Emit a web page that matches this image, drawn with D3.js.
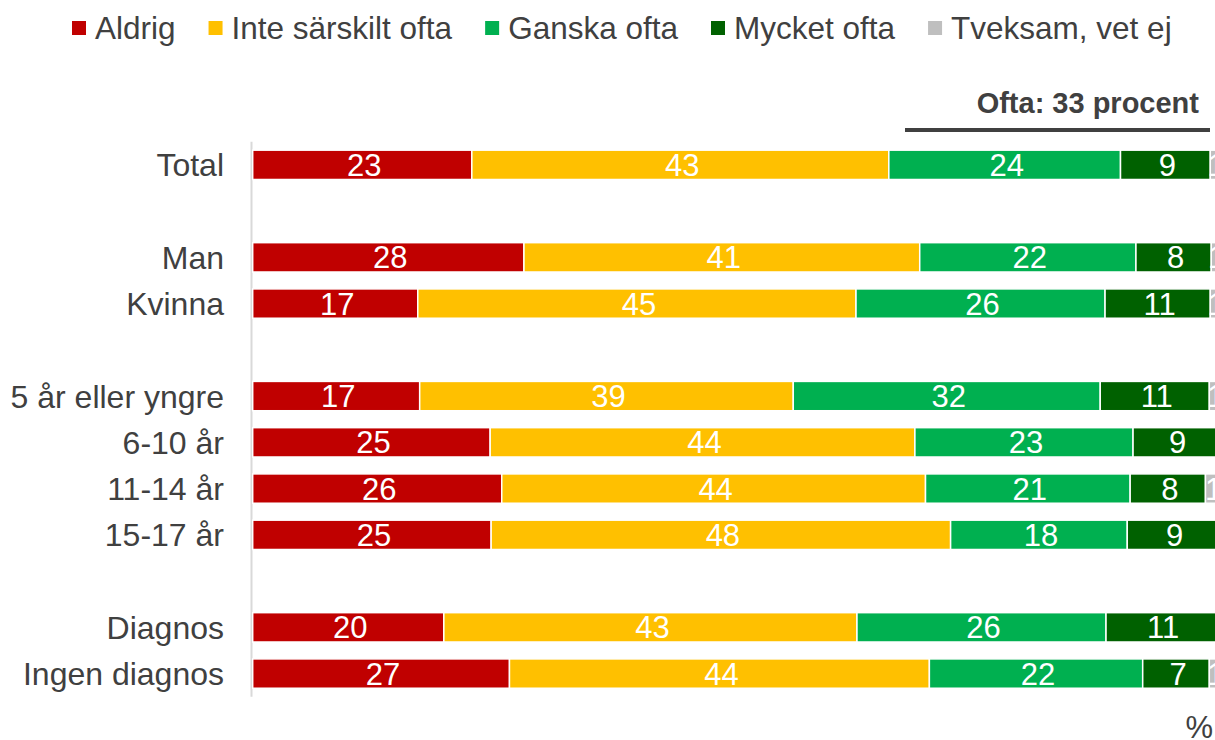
<!DOCTYPE html>
<html>
<head>
<meta charset="utf-8">
<script src="https://cdn.jsdelivr.net/npm/d3@7"></script>
<style>
  body { margin: 0; background: #fff; }
  svg { display: block; font-family: "Liberation Sans", Arial, sans-serif; }
</style>
</head>
<body>
<svg id="chart" width="1215" height="740"></svg>
<script>
// categories, blank strings are spacer rows
var rows = ['Total', '', 'Man', 'Kvinna', ' ', '5 år eller yngre', '6-10 år', '11-14 år', '15-17 år', '  ', 'Diagnos', 'Ingen diagnos'];
var groups = ['Total', 'Man', 'Kvinna', '5 år eller yngre', '6-10 år', '11-14 år', '15-17 år', 'Diagnos', 'Ingen diagnos'];

var seriesNames = ['Aldrig', 'Inte särskilt ofta', 'Ganska ofta', 'Mycket ofta', 'Tveksam, vet ej'];
var seriesColors = ['#C00000', '#FFC000', '#00B050', '#006100', '#BFBFBF'];

var aldrig    = [22.7, 28.1, 17.1, 17.3, 24.6, 25.8, 24.7, 19.8, 26.6];
var inteOfta  = [43.2, 41.0, 45.4, 38.7, 44.0, 43.9, 47.6, 42.8, 43.5];
var ganska    = [24.0, 22.4, 25.8, 31.8, 22.6, 21.2, 18.3, 25.8, 22.1];
var mycket    = [9.3, 7.8, 10.9, 11.3, 8.8, 7.8, 9.4, 11.4, 6.9];
var tveksam   = [0.8, 0.7, 0.8, 0.9, 0, 1.3, 0, 0, 0.9];

var oftaLabel = 'Ofta: 33 procent';

var svg = d3.select('#chart');
var textColor = '#404040';

var data = groups.map(function (g, i) {
  return { group: g, v: [aldrig[i], inteOfta[i], ganska[i], mycket[i], tveksam[i]] };
});

var x = d3.scaleLinear().domain([0, 100]).range([252.7, 1218]);
var y = d3.scaleBand().domain(rows).range([141.7, 696.7])
  .paddingInner(0.366).paddingOuter(0.183);

// vertical axis line
svg.append('line')
  .attr('x1', 251.5).attr('x2', 251.5)
  .attr('y1', y.range()[0]).attr('y2', y.range()[1])
  .attr('stroke', '#D9D9D9').attr('stroke-width', 2);

// category labels
svg.append('g').selectAll('text')
  .data(groups)
  .enter().append('text')
  .attr('x', 224)
  .attr('y', function (d) { return y(d) + y.bandwidth() / 2; })
  .attr('dy', '0.36em')
  .attr('text-anchor', 'end')
  .attr('fill', textColor)
  .style('font-size', '32px')
  .text(function (d) { return d; });

// stacked bars
var rowG = svg.append('g').selectAll('g')
  .data(data)
  .enter().append('g')
  .attr('transform', function (d) { return 'translate(0,' + y(d.group) + ')'; });

rowG.each(function (d) {
  var g = d3.select(this);
  var acc = 0;
  d.v.forEach(function (val, k) {
    if (val <= 0) return;
    var x0 = x(acc), x1 = x(acc + val);
    acc += val;
    g.append('rect')
      .attr('x', x0).attr('width', x1 - x0)
      .attr('y', 0).attr('height', y.bandwidth())
      .attr('fill', seriesColors[k])
      .attr('stroke', '#fff').attr('stroke-width', 1.5);
    g.append('text')
      .attr('x', (x0 + x1) / 2 + 2)
      .attr('y', y.bandwidth() / 2)
      .attr('dy', '0.36em')
      .attr('text-anchor', 'middle')
      .attr('fill', '#fff')
      .style('font-size', '31px')
      .text(Math.max(1, Math.round(val)));
  });
});

// "Ofta" bracket
svg.append('line')
  .attr('x1', 905).attr('x2', 1210)
  .attr('y1', 130).attr('y2', 130)
  .attr('stroke', textColor).attr('stroke-width', 4);
svg.append('text')
  .attr('x', 1199).attr('y', 113)
  .attr('text-anchor', 'end')
  .attr('fill', textColor)
  .style('font-size', '29px').style('font-weight', 'bold')
  .text(oftaLabel);

// percent sign
svg.append('text')
  .attr('x', 1213).attr('y', 738)
  .attr('text-anchor', 'end')
  .attr('fill', textColor)
  .style('font-size', '31px')
  .text('%');

// legend
var legend = svg.append('g');
var lx = 72;
seriesNames.forEach(function (name, k) {
  legend.append('rect')
    .attr('x', lx).attr('y', 21)
    .attr('width', 14).attr('height', 14)
    .attr('fill', seriesColors[k]);
  var t = legend.append('text')
    .attr('x', lx + 23).attr('y', 28)
    .attr('dy', '0.36em')
    .attr('fill', textColor)
    .style('font-size', '31.5px')
    .text(name);
  lx += 23 + t.node().getComputedTextLength() + 33;
});
</script>
</body>
</html>
